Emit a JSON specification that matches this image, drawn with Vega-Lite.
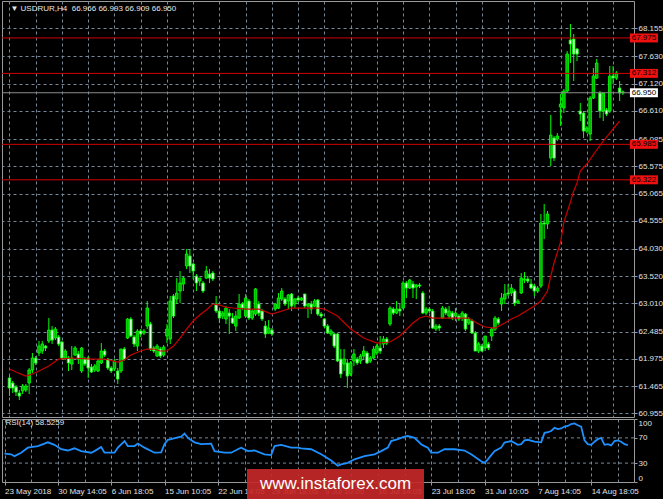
{
"$schema": "https://vega.github.io/schema/vega-lite/v6.json",
"background": "#000000",
"padding": 0,
"spacing": 2,
"bounds": "flush",
"config": {
  "view": {"stroke": "#9a9a9a", "strokeWidth": 1, "fill": "#000000"},
  "axis": {"labelColor": "#e0e0e0", "labelFont": "Liberation Sans", "labelFontSize": 8, "gridColor": "#778899", "gridDash": [3,3], "gridWidth": 1, "gridOpacity": 1, "tickColor": "#9a9a9a", "domain": false}
},
"datasets": {
"ohlc": [
{"i":0,"o":61.615,"h":61.652,"l":61.278,"c":61.428},
{"i":1,"o":61.521,"h":61.559,"l":61.334,"c":61.428},
{"i":2,"o":61.447,"h":61.484,"l":61.278,"c":61.353},
{"i":3,"o":61.334,"h":61.391,"l":61.203,"c":61.278},
{"i":4,"o":61.372,"h":61.503,"l":61.316,"c":61.465},
{"i":5,"o":61.391,"h":61.503,"l":61.353,"c":61.465},
{"i":6,"o":61.521,"h":61.802,"l":61.316,"c":61.765},
{"i":7,"o":61.765,"h":62.083,"l":61.709,"c":61.989},
{"i":8,"o":61.989,"h":62.026,"l":61.858,"c":61.896},
{"i":9,"o":62.083,"h":62.307,"l":62.026,"c":62.213},
{"i":10,"o":62.120,"h":62.307,"l":62.064,"c":62.251},
{"i":11,"o":62.213,"h":62.232,"l":62.120,"c":62.176},
{"i":12,"o":62.307,"h":62.737,"l":62.269,"c":62.512},
{"i":13,"o":62.512,"h":62.587,"l":62.251,"c":62.325},
{"i":14,"o":62.363,"h":62.569,"l":62.325,"c":62.531},
{"i":15,"o":62.382,"h":62.419,"l":62.213,"c":62.251},
{"i":16,"o":62.288,"h":62.307,"l":61.970,"c":61.989},
{"i":17,"o":61.989,"h":62.157,"l":61.952,"c":62.120},
{"i":18,"o":61.989,"h":62.026,"l":61.746,"c":61.896},
{"i":19,"o":61.877,"h":62.213,"l":61.765,"c":61.989},
{"i":20,"o":62.045,"h":62.213,"l":62.026,"c":62.176},
{"i":21,"o":62.064,"h":62.120,"l":61.877,"c":61.970},
{"i":22,"o":61.746,"h":62.195,"l":61.709,"c":62.176},
{"i":23,"o":61.970,"h":62.008,"l":61.839,"c":61.877},
{"i":24,"o":61.989,"h":62.026,"l":61.615,"c":61.802},
{"i":25,"o":61.821,"h":61.877,"l":61.709,"c":61.727},
{"i":26,"o":61.765,"h":61.877,"l":61.727,"c":61.839},
{"i":27,"o":61.746,"h":61.970,"l":61.727,"c":61.933},
{"i":28,"o":61.896,"h":62.269,"l":61.877,"c":62.120},
{"i":29,"o":62.120,"h":62.157,"l":62.008,"c":62.045},
{"i":30,"o":61.970,"h":61.989,"l":61.765,"c":61.802},
{"i":31,"o":61.802,"h":61.839,"l":61.709,"c":61.746},
{"i":32,"o":61.783,"h":61.970,"l":61.746,"c":61.933},
{"i":33,"o":61.746,"h":61.802,"l":61.503,"c":61.596},
{"i":34,"o":61.746,"h":62.157,"l":61.709,"c":62.157},
{"i":35,"o":62.157,"h":62.195,"l":61.933,"c":61.970},
{"i":36,"o":62.363,"h":62.737,"l":62.344,"c":62.718},
{"i":37,"o":62.718,"h":62.755,"l":62.382,"c":62.400},
{"i":38,"o":62.382,"h":62.419,"l":62.195,"c":62.251},
{"i":39,"o":62.213,"h":62.531,"l":62.120,"c":62.494},
{"i":40,"o":62.494,"h":62.531,"l":62.382,"c":62.438},
{"i":41,"o":62.456,"h":62.531,"l":62.419,"c":62.494},
{"i":42,"o":62.587,"h":63.055,"l":62.531,"c":62.924},
{"i":43,"o":62.625,"h":62.662,"l":62.120,"c":62.157},
{"i":44,"o":62.176,"h":62.213,"l":62.083,"c":62.120},
{"i":45,"o":62.026,"h":62.251,"l":62.008,"c":62.213},
{"i":46,"o":62.157,"h":62.195,"l":61.989,"c":62.026},
{"i":47,"o":62.045,"h":62.232,"l":62.008,"c":62.195},
{"i":48,"o":62.400,"h":62.625,"l":62.269,"c":62.531},
{"i":49,"o":62.344,"h":63.149,"l":62.251,"c":63.055},
{"i":50,"o":63.149,"h":63.186,"l":62.737,"c":62.774},
{"i":51,"o":63.092,"h":63.485,"l":62.999,"c":63.205},
{"i":52,"o":63.242,"h":63.616,"l":63.017,"c":63.392},
{"i":53,"o":63.373,"h":63.522,"l":63.242,"c":63.485},
{"i":54,"o":63.710,"h":64.027,"l":63.653,"c":63.934},
{"i":55,"o":63.896,"h":64.027,"l":63.579,"c":63.710},
{"i":56,"o":63.747,"h":63.766,"l":63.466,"c":63.616},
{"i":57,"o":63.522,"h":63.560,"l":63.242,"c":63.392},
{"i":58,"o":63.429,"h":63.485,"l":63.335,"c":63.485},
{"i":59,"o":63.392,"h":63.429,"l":63.205,"c":63.242},
{"i":60,"o":63.485,"h":63.710,"l":63.466,"c":63.616},
{"i":61,"o":63.560,"h":63.653,"l":63.392,"c":63.485},
{"i":62,"o":63.579,"h":63.616,"l":63.429,"c":63.466},
{"i":63,"o":62.999,"h":63.149,"l":62.830,"c":62.868},
{"i":64,"o":62.868,"h":62.905,"l":62.643,"c":62.737},
{"i":65,"o":62.774,"h":62.868,"l":62.718,"c":62.830},
{"i":66,"o":62.718,"h":62.961,"l":62.625,"c":62.924},
{"i":67,"o":62.830,"h":62.905,"l":62.438,"c":62.774},
{"i":68,"o":62.737,"h":62.830,"l":62.625,"c":62.643},
{"i":69,"o":62.587,"h":62.868,"l":62.494,"c":62.774},
{"i":70,"o":62.737,"h":63.186,"l":62.718,"c":62.999},
{"i":71,"o":62.999,"h":63.036,"l":62.886,"c":62.924},
{"i":72,"o":62.774,"h":63.186,"l":62.737,"c":63.111},
{"i":73,"o":63.055,"h":63.092,"l":62.699,"c":62.737},
{"i":74,"o":62.737,"h":62.905,"l":62.699,"c":62.868},
{"i":75,"o":62.811,"h":63.298,"l":62.774,"c":63.280},
{"i":76,"o":62.999,"h":63.055,"l":62.774,"c":62.830},
{"i":77,"o":62.868,"h":62.905,"l":62.681,"c":62.718},
{"i":78,"o":62.587,"h":62.681,"l":62.363,"c":62.438},
{"i":79,"o":62.456,"h":62.699,"l":62.438,"c":62.550},
{"i":80,"o":62.512,"h":62.550,"l":62.400,"c":62.438},
{"i":81,"o":62.905,"h":63.017,"l":62.868,"c":62.999},
{"i":82,"o":62.924,"h":63.205,"l":62.905,"c":63.111},
{"i":83,"o":63.092,"h":63.298,"l":63.055,"c":63.242},
{"i":84,"o":63.092,"h":63.130,"l":62.961,"c":62.999},
{"i":85,"o":63.055,"h":63.186,"l":62.905,"c":63.167},
{"i":86,"o":63.186,"h":63.205,"l":62.868,"c":62.961},
{"i":87,"o":62.999,"h":63.111,"l":62.924,"c":63.092},
{"i":88,"o":63.111,"h":63.149,"l":63.036,"c":63.074},
{"i":89,"o":63.074,"h":63.130,"l":63.055,"c":63.111},
{"i":90,"o":63.186,"h":63.186,"l":62.924,"c":62.961},
{"i":91,"o":62.961,"h":62.999,"l":62.737,"c":62.999},
{"i":92,"o":62.999,"h":63.055,"l":62.811,"c":62.905},
{"i":93,"o":62.961,"h":63.092,"l":62.942,"c":63.055},
{"i":94,"o":63.074,"h":63.092,"l":62.774,"c":62.811},
{"i":95,"o":62.811,"h":62.849,"l":62.737,"c":62.774},
{"i":96,"o":62.718,"h":62.737,"l":62.550,"c":62.587},
{"i":97,"o":62.587,"h":62.625,"l":62.438,"c":62.456},
{"i":98,"o":62.438,"h":62.531,"l":62.400,"c":62.494},
{"i":99,"o":62.438,"h":62.456,"l":62.176,"c":62.213},
{"i":100,"o":62.438,"h":62.456,"l":61.914,"c":61.933},
{"i":101,"o":61.970,"h":62.157,"l":61.615,"c":61.690},
{"i":102,"o":61.877,"h":62.157,"l":61.746,"c":61.970},
{"i":103,"o":61.896,"h":61.970,"l":61.428,"c":61.652},
{"i":104,"o":61.690,"h":61.933,"l":61.652,"c":61.896},
{"i":105,"o":61.933,"h":62.157,"l":61.839,"c":62.064},
{"i":106,"o":61.970,"h":62.008,"l":61.858,"c":61.896},
{"i":107,"o":61.933,"h":62.064,"l":61.877,"c":62.026},
{"i":108,"o":62.026,"h":62.213,"l":61.970,"c":62.120},
{"i":109,"o":62.083,"h":62.120,"l":61.877,"c":61.896},
{"i":110,"o":61.933,"h":62.026,"l":61.896,"c":61.989},
{"i":111,"o":61.989,"h":62.213,"l":61.970,"c":62.157},
{"i":112,"o":62.083,"h":62.251,"l":62.045,"c":62.213},
{"i":113,"o":62.176,"h":62.400,"l":62.064,"c":62.120},
{"i":114,"o":62.251,"h":62.400,"l":62.176,"c":62.344},
{"i":115,"o":62.344,"h":62.382,"l":62.232,"c":62.269},
{"i":116,"o":62.625,"h":62.961,"l":62.587,"c":62.924},
{"i":117,"o":62.905,"h":62.942,"l":62.793,"c":62.830},
{"i":118,"o":62.830,"h":63.055,"l":62.811,"c":62.905},
{"i":119,"o":62.905,"h":62.999,"l":62.774,"c":62.868},
{"i":120,"o":62.924,"h":63.429,"l":62.905,"c":63.392},
{"i":121,"o":63.392,"h":63.429,"l":63.111,"c":63.298},
{"i":122,"o":63.298,"h":63.466,"l":63.280,"c":63.448},
{"i":123,"o":63.373,"h":63.429,"l":63.111,"c":63.298},
{"i":124,"o":63.317,"h":63.373,"l":63.092,"c":63.354},
{"i":125,"o":63.354,"h":63.392,"l":63.298,"c":63.335},
{"i":126,"o":63.205,"h":63.242,"l":62.811,"c":62.830},
{"i":127,"o":62.830,"h":62.942,"l":62.793,"c":62.905},
{"i":128,"o":62.905,"h":62.942,"l":62.830,"c":62.868},
{"i":129,"o":62.868,"h":62.905,"l":62.531,"c":62.550},
{"i":130,"o":62.531,"h":62.625,"l":62.494,"c":62.587},
{"i":131,"o":62.587,"h":62.625,"l":62.494,"c":62.550},
{"i":132,"o":62.737,"h":62.961,"l":62.718,"c":62.924},
{"i":133,"o":62.905,"h":62.942,"l":62.793,"c":62.830},
{"i":134,"o":62.774,"h":62.961,"l":62.718,"c":62.868},
{"i":135,"o":62.830,"h":62.868,"l":62.699,"c":62.737},
{"i":136,"o":62.774,"h":62.924,"l":62.681,"c":62.830},
{"i":137,"o":62.774,"h":62.811,"l":62.681,"c":62.718},
{"i":138,"o":62.737,"h":62.868,"l":62.681,"c":62.830},
{"i":139,"o":62.811,"h":62.830,"l":62.494,"c":62.531},
{"i":140,"o":62.643,"h":62.755,"l":62.606,"c":62.718},
{"i":141,"o":62.681,"h":62.718,"l":62.438,"c":62.456},
{"i":142,"o":62.456,"h":62.494,"l":62.120,"c":62.120},
{"i":143,"o":62.120,"h":62.288,"l":62.083,"c":62.251},
{"i":144,"o":62.213,"h":62.251,"l":62.101,"c":62.120},
{"i":145,"o":62.176,"h":62.400,"l":62.120,"c":62.400},
{"i":146,"o":62.251,"h":62.288,"l":62.139,"c":62.176},
{"i":147,"o":62.400,"h":62.550,"l":62.307,"c":62.531},
{"i":148,"o":62.531,"h":62.774,"l":62.494,"c":62.737},
{"i":149,"o":62.718,"h":62.755,"l":62.606,"c":62.643},
{"i":150,"o":62.999,"h":63.205,"l":62.868,"c":63.111},
{"i":151,"o":63.092,"h":63.373,"l":62.999,"c":63.186},
{"i":152,"o":63.205,"h":63.373,"l":63.149,"c":63.186},
{"i":153,"o":63.205,"h":63.373,"l":63.149,"c":63.298},
{"i":154,"o":63.242,"h":63.280,"l":62.961,"c":63.017},
{"i":155,"o":63.017,"h":63.092,"l":62.999,"c":63.055},
{"i":156,"o":63.205,"h":63.579,"l":63.186,"c":63.485},
{"i":157,"o":63.448,"h":63.597,"l":63.392,"c":63.466},
{"i":158,"o":63.466,"h":63.522,"l":63.392,"c":63.429},
{"i":159,"o":63.373,"h":63.466,"l":63.280,"c":63.298},
{"i":160,"o":63.335,"h":63.373,"l":63.149,"c":63.242},
{"i":161,"o":63.242,"h":63.335,"l":63.205,"c":63.298},
{"i":162,"o":63.335,"h":64.682,"l":63.298,"c":64.514},
{"i":163,"o":64.514,"h":64.869,"l":64.214,"c":64.495},
{"i":164,"o":64.495,"h":64.738,"l":64.401,"c":64.682},
{"i":165,"o":65.729,"h":66.534,"l":65.580,"c":66.159},
{"i":166,"o":66.103,"h":66.141,"l":65.673,"c":65.729},
{"i":167,"o":66.084,"h":66.197,"l":66.047,"c":66.141},
{"i":168,"o":66.683,"h":66.926,"l":66.328,"c":66.739},
{"i":169,"o":66.665,"h":67.020,"l":66.571,"c":66.982},
{"i":170,"o":66.982,"h":67.730,"l":66.945,"c":67.674},
{"i":171,"o":67.936,"h":68.235,"l":67.506,"c":67.861},
{"i":172,"o":67.955,"h":68.048,"l":67.169,"c":67.674},
{"i":173,"o":67.768,"h":67.787,"l":67.543,"c":67.674},
{"i":174,"o":66.608,"h":66.758,"l":66.421,"c":66.552},
{"i":175,"o":66.571,"h":66.608,"l":66.103,"c":66.234},
{"i":176,"o":66.234,"h":66.328,"l":66.197,"c":66.290},
{"i":177,"o":66.178,"h":66.889,"l":66.047,"c":66.851},
{"i":178,"o":66.851,"h":67.412,"l":66.833,"c":67.263},
{"i":179,"o":67.225,"h":67.581,"l":67.207,"c":67.506},
{"i":180,"o":66.945,"h":66.982,"l":66.477,"c":66.608},
{"i":181,"o":66.608,"h":66.945,"l":66.421,"c":66.945},
{"i":182,"o":66.627,"h":66.665,"l":66.515,"c":66.552},
{"i":183,"o":66.608,"h":67.450,"l":66.571,"c":67.263},
{"i":184,"o":67.263,"h":67.450,"l":67.113,"c":67.225},
{"i":185,"o":67.225,"h":67.356,"l":67.188,"c":67.319},
{"i":186,"o":67.038,"h":67.169,"l":66.795,"c":66.945},
{"i":187,"o":66.966,"h":66.993,"l":66.909,"c":66.950}
],
"ma": [
{"i":0,"v":61.783},{"i":2,"v":61.727},{"i":5,"v":61.652},{"i":7,"v":61.690},{"i":9,"v":61.746},{"i":12,"v":61.839},{"i":15,"v":61.970},{"i":19,"v":61.989},{"i":25,"v":61.970},{"i":29,"v":61.970},{"i":33,"v":61.914},{"i":35,"v":61.952},{"i":37,"v":62.045},{"i":40,"v":62.120},{"i":42,"v":62.157},{"i":44,"v":62.157},{"i":46,"v":62.120},{"i":48,"v":62.120},{"i":50,"v":62.213},{"i":52,"v":62.363},{"i":54,"v":62.531},{"i":56,"v":62.681},{"i":58,"v":62.793},{"i":60,"v":62.886},{"i":62,"v":62.999},{"i":64,"v":62.980},{"i":66,"v":62.942},{"i":68,"v":62.924},{"i":72,"v":62.905},{"i":76,"v":62.905},{"i":80,"v":62.811},{"i":86,"v":62.924},{"i":94,"v":62.924},{"i":96,"v":62.905},{"i":100,"v":62.774},{"i":104,"v":62.531},{"i":108,"v":62.363},{"i":112,"v":62.269},{"i":116,"v":62.288},{"i":119,"v":62.400},{"i":123,"v":62.643},{"i":125,"v":62.737},{"i":127,"v":62.774},{"i":129,"v":62.737},{"i":135,"v":62.737},{"i":140,"v":62.737},{"i":143,"v":62.625},{"i":145,"v":62.569},{"i":148,"v":62.550},{"i":151,"v":62.643},{"i":153,"v":62.718},{"i":155,"v":62.774},{"i":157,"v":62.849},{"i":160,"v":62.961},{"i":162,"v":63.055},{"i":164,"v":63.242},{"i":165,"v":63.522},{"i":166,"v":63.766},{"i":168,"v":64.158},{"i":169,"v":64.532},{"i":171,"v":64.906},{"i":172,"v":65.112},{"i":173,"v":65.262},{"i":174,"v":65.486},{"i":176,"v":65.617},{"i":179,"v":65.879},{"i":181,"v":66.047},{"i":183,"v":66.197},{"i":185,"v":66.347},{"i":186,"v":66.421}
],
"rsi": [
{"i":0,"v":45},{"i":2,"v":44},{"i":3,"v":41},{"i":5,"v":46.5},{"i":7,"v":54.5},{"i":10,"v":57},{"i":12,"v":61},{"i":13,"v":63},{"i":15,"v":59},{"i":17,"v":52},{"i":19,"v":50},{"i":21,"v":53.5},{"i":23,"v":49},{"i":26,"v":46.5},{"i":27,"v":49},{"i":29,"v":55.6},{"i":30,"v":46.5},{"i":33,"v":46.5},{"i":34,"v":54.5},{"i":36,"v":65},{"i":37,"v":57},{"i":39,"v":57},{"i":40,"v":61},{"i":42,"v":54.5},{"i":45,"v":46.5},{"i":47,"v":47},{"i":48,"v":60},{"i":49,"v":67},{"i":50,"v":68},{"i":52,"v":71},{"i":53,"v":72},{"i":54,"v":77},{"i":55,"v":70},{"i":57,"v":63},{"i":59,"v":60},{"i":62,"v":61},{"i":63,"v":49},{"i":66,"v":46.5},{"i":68,"v":46.5},{"i":70,"v":52},{"i":71,"v":54.5},{"i":73,"v":49},{"i":75,"v":50},{"i":78,"v":44},{"i":80,"v":42.8},{"i":81,"v":57},{"i":83,"v":59},{"i":86,"v":54.5},{"i":88,"v":54.5},{"i":89,"v":53.5},{"i":92,"v":52},{"i":95,"v":44},{"i":98,"v":34},{"i":100,"v":26},{"i":101,"v":28},{"i":102,"v":29},{"i":103,"v":30.5},{"i":105,"v":36},{"i":108,"v":41},{"i":111,"v":44},{"i":113,"v":49},{"i":115,"v":54.5},{"i":116,"v":65},{"i":118,"v":68},{"i":120,"v":72},{"i":121,"v":73},{"i":123,"v":70},{"i":125,"v":60},{"i":126,"v":57},{"i":127,"v":54.5},{"i":128,"v":46.5},{"i":130,"v":46.5},{"i":132,"v":52},{"i":135,"v":52},{"i":138,"v":50},{"i":140,"v":44},{"i":143,"v":33},{"i":144,"v":30.5},{"i":145,"v":36},{"i":147,"v":49},{"i":149,"v":54.5},{"i":150,"v":62.5},{"i":152,"v":65},{"i":154,"v":59},{"i":155,"v":60},{"i":156,"v":66},{"i":157,"v":67},{"i":159,"v":64},{"i":161,"v":63},{"i":162,"v":78},{"i":163,"v":79},{"i":164,"v":81},{"i":165,"v":86},{"i":166,"v":84},{"i":167,"v":85},{"i":168,"v":88},{"i":169,"v":89},{"i":170,"v":92},{"i":171,"v":93},{"i":172,"v":90},{"i":173,"v":88},{"i":174,"v":66},{"i":175,"v":60},{"i":176,"v":59},{"i":177,"v":64},{"i":178,"v":68},{"i":179,"v":70},{"i":180,"v":59},{"i":181,"v":60},{"i":182,"v":58},{"i":183,"v":65},{"i":184,"v":66},{"i":185,"v":64},{"i":186,"v":60},{"i":187,"v":58.5}
],
"tags": [
{"price":67.975,"kind":"level"},{"price":67.312,"kind":"level"},{"price":65.985,"kind":"level"},{"price":65.322,"kind":"level"},{"price":66.950,"kind":"bid"}
],
"rsiLevels": [{"lv":70},{"lv":30}]
},
"vconcat": [
{
"width": 632, "height": 416,
"layer": [
{"data": {"name": "ohlc"},
 "mark": {"type": "rule", "color": "#00ff00", "strokeWidth": 1},
 "encoding": {
  "x": {"field": "i", "type": "quantitative", "title": null, "scale": {"domain": [-0.75, 188.85], "nice": false, "zero": false},
        "axis": {"values": [0,8,16,24,32,40,48,56,64,72,80,88,96,104,112,120,128,136,144,152,160,168,176,184], "tickCount": 40, "grid": true, "labels": false, "ticks": false, "domain": false}},
  "y": {"field": "l", "type": "quantitative", "title": null, "scale": {"domain": [60.886, 68.666], "nice": false, "zero": false},
        "axis": {"orient": "right", "values": [68.155,67.63,67.12,66.61,66.085,65.575,65.065,64.555,64.03,63.52,63.01,62.485,61.975,61.465,60.955], "tickCount": 30, "format": ".3f", "grid": true, "tickSize": 3, "labelPadding": 1, "labelOverlap": false, "labelBound": false}},
  "y2": {"field": "h"}
 }},
{"data": {"name": "ohlc"},
 "mark": {"type": "bar", "width": 2.5, "stroke": "#00ff00", "strokeWidth": 0.9},
 "encoding": {
  "x": {"field": "i", "type": "quantitative", "title": null},
  "y": {"field": "o", "type": "quantitative", "title": null},
  "y2": {"field": "c"},
  "fill": {"condition": {"test": "datum.c >= datum.o", "value": "#00b000"}, "value": "#e8ffe8"}
 }},
{"data": {"name": "ma"},
 "mark": {"type": "line", "color": "#c80000", "strokeWidth": 1.2},
 "encoding": {
  "x": {"field": "i", "type": "quantitative", "title": null},
  "y": {"field": "v", "type": "quantitative", "title": null}
 }},
{"data": {"name": "tags"},
 "mark": {"type": "rule", "strokeWidth": 1},
 "encoding": {
  "y": {"field": "price", "type": "quantitative", "title": null},
  "color": {"condition": {"test": "datum.kind == 'bid'", "value": "#8c8c8c"}, "value": "#d00000"}
 }},
{"data": {"name": "tags"},
 "mark": {"type": "point", "shape": "M-1,-0.32L1,-0.32L1,0.32L-1,0.32Z", "size": 784, "filled": true, "opacity": 1, "strokeWidth": 0},
 "encoding": {
  "x": {"datum": 193.4, "type": "quantitative"},
  "y": {"field": "price", "type": "quantitative", "title": null},
  "fill": {"condition": {"test": "datum.kind == 'bid'", "value": "#ffffff"}, "value": "#f01010"}
 }},
{"data": {"name": "tags"},
 "mark": {"type": "text", "fontSize": 8, "font": "Liberation Sans", "align": "center", "baseline": "middle", "color": "#000000"},
 "encoding": {
  "x": {"datum": 193.4, "type": "quantitative"},
  "y": {"field": "price", "type": "quantitative", "title": null},
  "text": {"field": "price", "type": "quantitative", "format": ".3f"}
 }},
{"data": {"values": [{}]},
 "mark": {"type": "text", "fontSize": 8, "font": "Liberation Sans", "align": "left", "baseline": "middle", "color": "#e6e6e6"},
 "encoding": {
  "x": {"datum": 0.3, "type": "quantitative"},
  "y": {"datum": 68.516, "type": "quantitative"},
  "text": {"value": "\u25bc USDRUR,H4\u00a0\u00a066.966 66.993 66.909 66.950"}
 }}
]
},
{
"width": 632, "height": 63,
"layer": [
{"data": {"name": "rsiLevels"},
 "mark": {"type": "rule", "color": "#778899", "strokeDash": [3,3], "strokeWidth": 1},
 "encoding": {
  "y": {"field": "lv", "type": "quantitative", "title": null, "scale": {"domain": [0, 100], "nice": false, "zero": false},
        "axis": {"orient": "right", "values": [0,30,70,100], "tickCount": 10, "grid": false, "tickSize": 3, "labelPadding": 1, "labelFlush": true, "labelOverlap": false}}
 }},
{"data": {"name": "rsi"},
 "mark": {"type": "line", "color": "#1e90ff", "strokeWidth": 1.8},
 "encoding": {
  "x": {"field": "i", "type": "quantitative", "title": null, "scale": {"domain": [-0.75, 188.85], "nice": false, "zero": false},
        "axis": {"values": [0,8,16,24,32,40,48,56,64,72,80,88,96,104,112,120,128,136,144,152,160,168,176,184], "tickCount": 40, "grid": true, "ticks": true, "tickSize": 3,
                 "tickOpacity": {"condition": {"test": "datum.value % 16 == 0", "value": 1}, "value": 0},
                 "labelAlign": "left", "labelFlush": false, "labelOverlap": false, "labelPadding": 2,
                 "labelExpr": "datum.value % 16 == 0 ? ['23 May 2018','30 May 14:05','6 Jun 18:05','15 Jun 10:05','22 Jun 14:05','29 Jun 18:05','9 Jul 10:05','16 Jul 14:05','23 Jul 18:05','31 Jul 10:05','7 Aug 14:05','14 Aug 18:05'][datum.value / 16] : ''"}},
  "y": {"field": "v", "type": "quantitative", "title": null}
 }},
{"data": {"values": [{}]},
 "mark": {"type": "text", "fontSize": 8, "font": "Liberation Sans", "align": "left", "baseline": "middle", "color": "#e6e6e6"},
 "encoding": {
  "x": {"datum": 0.3, "type": "quantitative"},
  "y": {"datum": 94, "type": "quantitative"},
  "text": {"value": "RSI(14) 58.5259"}
 }},
{"data": {"values": [{}]},
 "mark": {"type": "rect", "color": "#c62828", "opacity": 0.92},
 "encoding": {
  "x": {"datum": 72.75, "type": "quantitative"},
  "x2": {"datum": 125.85},
  "y": {"datum": 20.6, "type": "quantitative"},
  "y2": {"datum": -28.6}
 }},
{"data": {"values": [{}]},
 "mark": {"type": "text", "fontSize": 17, "font": "Liberation Sans", "align": "center", "baseline": "middle", "color": "#ffffff"},
 "encoding": {
  "x": {"datum": 99.3, "type": "quantitative"},
  "y": {"datum": -3.2, "type": "quantitative"},
  "text": {"value": "www.instaforex.com"}
 }}
]
}
]
}
